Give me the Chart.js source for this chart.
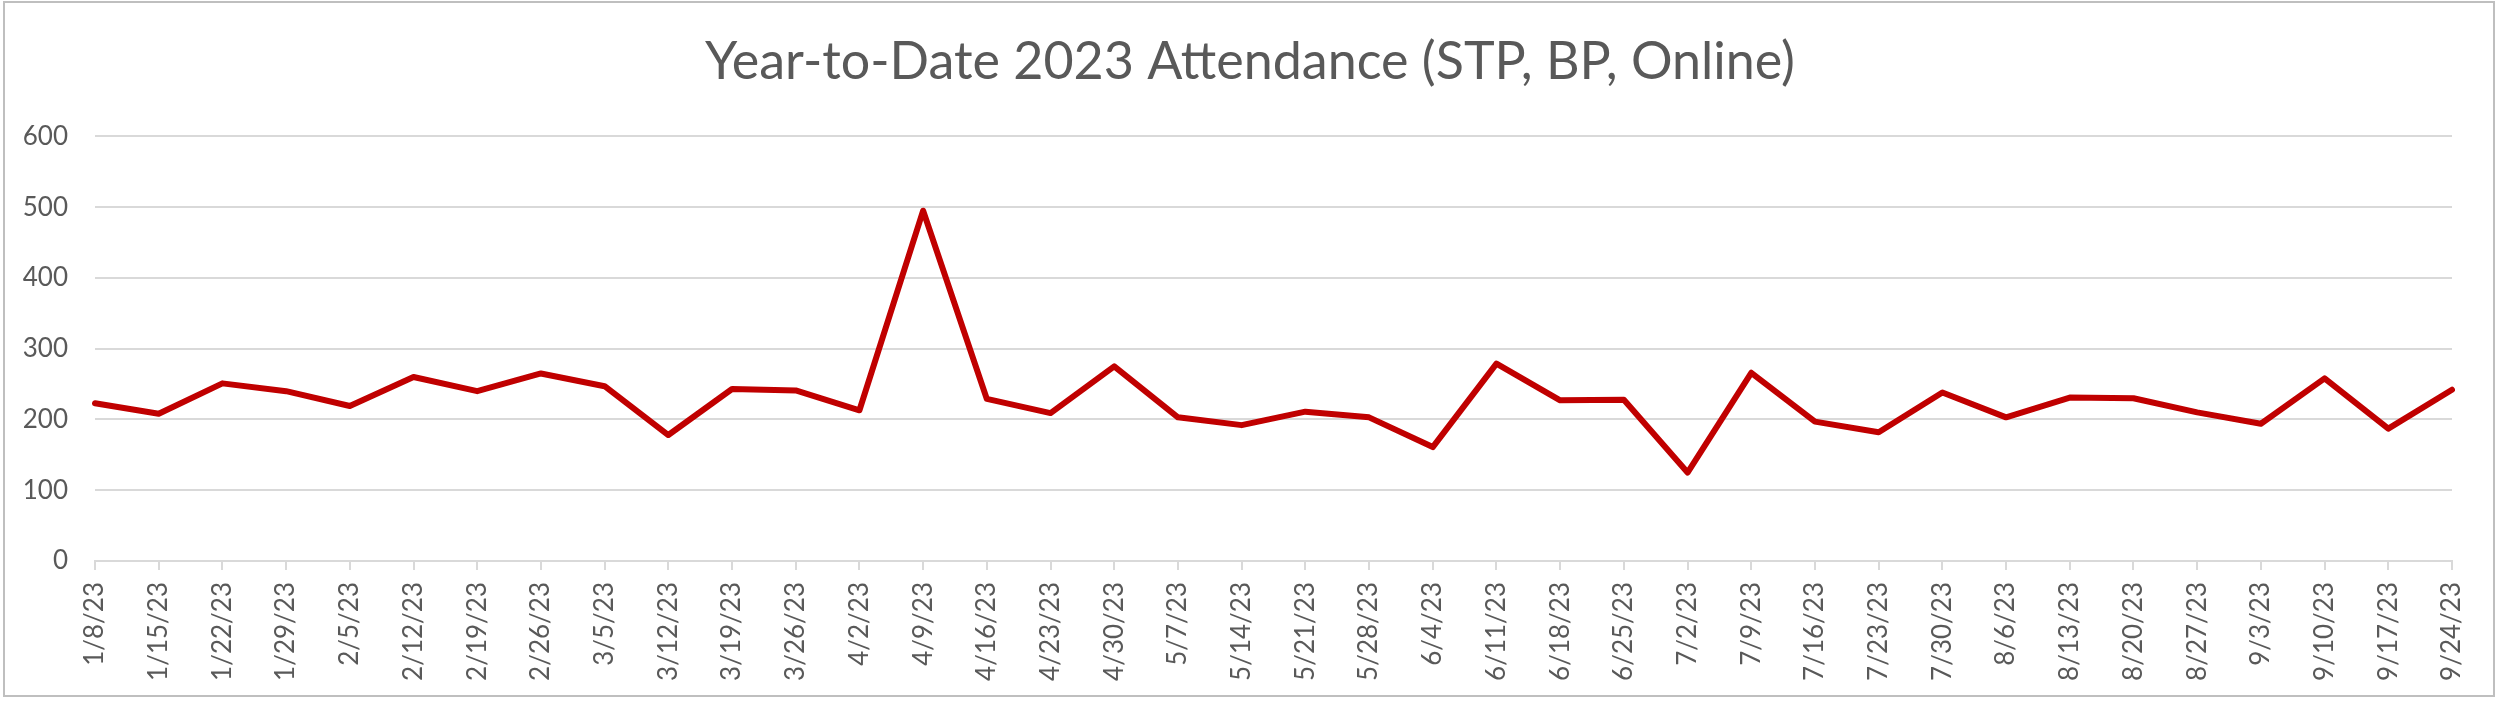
<!DOCTYPE html>
<html>
<head>
<meta charset="utf-8">
<script src="https://cdn.jsdelivr.net/npm/chart.js@4.4.0/dist/chart.umd.min.js"></script>
<style>
    html, body { margin: 0; padding: 0; background: #ffffff; }
    #wrap { position: relative; width: 2500px; height: 701px; }
</style>
</head>
<body>
<div id="wrap"><canvas id="attendanceChart"></canvas></div>
<script>
const weeks = [
    "1/8/23", "1/15/23", "1/22/23", "1/29/23", "2/5/23", "2/12/23", "2/19/23", "2/26/23",
    "3/5/23", "3/12/23", "3/19/23", "3/26/23", "4/2/23", "4/9/23", "4/16/23", "4/23/23",
    "4/30/23", "5/7/23", "5/14/23", "5/21/23", "5/28/23", "6/4/23", "6/11/23", "6/18/23",
    "6/25/23", "7/2/23", "7/9/23", "7/16/23", "7/23/23", "7/30/23", "8/6/23", "8/13/23",
    "8/20/23", "8/27/23", "9/3/23", "9/10/23", "9/17/23", "9/24/23"
];

const attendance = [
    223, 208, 251, 240, 219, 260, 240, 265,
    247, 178, 243, 241, 213, 495, 229, 209,
    275, 203, 192, 211, 203, 161, 279, 227,
    228, 125, 266, 197, 182, 238, 203, 231,
    230, 210, 194, 258, 187, 242
];

const yTicks = [0, 100, 200, 300, 400, 500, 600];

const textColor = "#595959";
const gridColor = "#d9d9d9";
const fontFamily = "Lato, 'Open Sans', sans-serif";

// light grey frame round the whole chart, like the Excel chart border
const frame = {
    id: "frame",
    afterDraw(chart) {
        const c = chart.ctx;
        c.save();
        c.strokeStyle = "#bfbfbf";
        c.lineWidth = 2;
        c.strokeRect(4, 2, 2490, 694);
        c.restore();
    }
};

const ctx = document.getElementById("attendanceChart").getContext("2d");
const attendanceChart = new Chart(ctx, {
    type: "line",
    data: {
        labels: weeks,
        datasets: [{
            label: "Attendance",
            data: attendance,
            borderColor: "#c00000",
            backgroundColor: "#c00000",
            borderWidth: 6,
            borderJoinStyle: "round",
            borderCapStyle: "round",
            pointRadius: 0,
            tension: 0,
            fill: false
        }]
    },
    options: {
        responsive: true,
        maintainAspectRatio: false,
        animation: false,
        devicePixelRatio: 1,
        // equal side padding keeps the title centred on the whole canvas
        layout: { padding: { left: 10, right: 10, top: 0, bottom: 0 } },
        plugins: {
            legend: { display: false },
            tooltip: { enabled: false },
            title: {
                display: true,
                text: "Year-to-Date 2023 Attendance (STP, BP, Online)",
                color: textColor,
                font: { family: fontFamily, size: 52, weight: "normal", lineHeight: 1.2 },
                padding: { top: 31, bottom: 43 }
            }
        },
        scales: {
            x: {
                offset: false,
                grid: { drawOnChartArea: false, drawTicks: true, tickLength: 9, color: gridColor, lineWidth: 2 },
                border: { display: true, color: gridColor, width: 2 },
                ticks: {
                    autoSkip: false,
                    minRotation: 90,
                    maxRotation: 90,
                    padding: 12,
                    color: textColor,
                    font: { family: fontFamily, size: 26 }
                },
                afterFit(scale) { scale.height = 140; }
            },
            y: {
                min: yTicks[0],
                max: yTicks[yTicks.length - 1],
                afterBuildTicks(scale) { scale.ticks = yTicks.map(v => ({ value: v })); },
                grid: { drawTicks: false, color: gridColor, lineWidth: 2 },
                border: { display: false },
                ticks: {
                    padding: 27,
                    color: textColor,
                    font: { family: fontFamily, size: 26 }
                },
                afterFit(scale) { scale.width = 85; }
            },
            // empty right-hand spacer so the plot ends where the reference does
            spacer: {
                position: "right",
                min: 0,
                max: 1,
                grid: { display: false, drawTicks: false },
                border: { display: false },
                ticks: { display: false },
                afterFit(scale) { scale.width = 38; }
            }
        }
    },
    plugins: [frame]
});
</script>
</body>
</html>
